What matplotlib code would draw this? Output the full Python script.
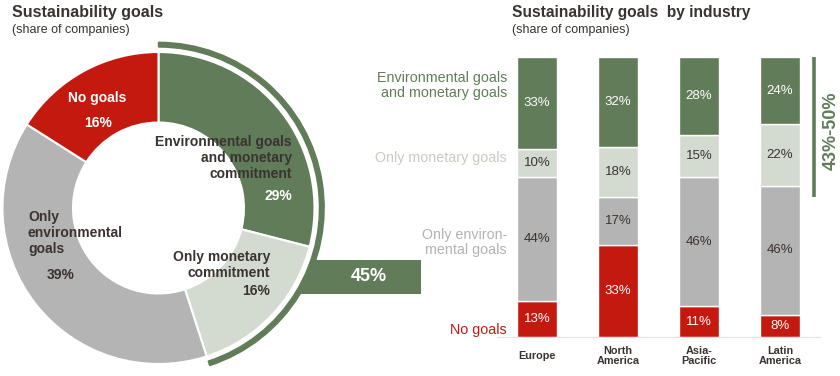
import matplotlib.pyplot as plt
from matplotlib.patches import Wedge, Circle
from matplotlib.transforms import blended_transform_factory

plt.rcParams['font.family'] = ['Liberation Sans', 'DejaVu Sans']

# Overall split (donut)
donut_labels = ['Environmental goals\nand monetary\ncommitment', 'Only monetary\ncommitment',
                'Only\nenvironmental\ngoals', 'No goals']
donut_values = [29, 16, 39, 16]

# Split by region (stacked bars)
regions = ['Europe', 'North\nAmerica', 'Asia-\nPacific', 'Latin\nAmerica']
env_and_monetary = [33, 32, 28, 24]
only_monetary = [10, 18, 15, 22]
only_env = [44, 17, 46, 46]
no_goals = [13, 33, 11, 8]

GREEN = '#617c58'
LIGHT = '#d3dbd1'
GRAY = '#b4b4b4'
RED = '#c4190f'
DARK = '#3a3330'

W, H = 840, 376
fig = plt.figure(figsize=(W / 100, H / 100), dpi=100)


def fx(px):
    return px / W


def fy(py):
    return 1 - py / H


# titles
fig.text(fx(12), fy(13), 'Sustainability goals', fontsize=11.5, fontweight='bold', color=DARK, va='center')
fig.text(fx(12), fy(30), '(share of companies)', fontsize=9, color=DARK, va='center')
fig.text(fx(512), fy(13), 'Sustainability goals  by industry', fontsize=11.2, fontweight='bold',
         color=DARK, va='center')
fig.text(fx(512), fy(30), '(share of companies)', fontsize=9, color=DARK, va='center')

# ---- donut ----
cx, cy, R = 158.5, 208, 156
half = 1.1 * R
ax1 = fig.add_axes([fx(cx - half), (H - cy - half) / H, 2 * half / W, 2 * half / H])
ax1.pie(donut_values, startangle=90, counterclock=False, radius=1,
        colors=[GREEN, LIGHT, GRAY, RED],
        wedgeprops=dict(width=0.452, edgecolor='white', linewidth=1.5, zorder=3))
ax1.set_xlim(-1.1, 1.1)
ax1.set_ylim(-1.1, 1.1)
ax1.set_aspect('equal')
ax1.axis('off')

# combined share of companies with monetary commitment
combined = donut_values[0] + donut_values[1]
ax1.barh(-0.442, 0.933, left=0.75, height=0.218, color=GREEN, zorder=1, clip_on=False)
ax1.add_patch(Circle((0, 0), 1.03, color='white', zorder=2))
ax1.add_patch(Wedge((0, 0), 1.062, 90 - 360 * combined / 100, 90, width=0.03,
                    color=GREEN, zorder=4))
ax1.text(1.35, -0.442, f'{combined}%', color='white', fontsize=13, fontweight='bold',
         ha='center', va='center', clip_on=False, zorder=5)

kw = dict(fontsize=10, fontweight='bold', linespacing=1.15, zorder=5)
ax1.text(0.856, 0.32, donut_labels[0], color=DARK, ha='right', va='center', **kw)
ax1.text(0.856, 0.077, f'{donut_values[0]}%', color='white', ha='right', va='center', **kw)
ax1.text(0.715, -0.365, donut_labels[1], color=DARK, ha='right', va='center', **kw)
ax1.text(0.715, -0.532, f'{donut_values[1]}%', color=DARK, ha='right', va='center', **kw)
ax1.text(-0.837, -0.16, donut_labels[2], color=DARK, ha='left', va='center', **kw)
ax1.text(-0.625, -0.43, f'{donut_values[2]}%', color=DARK, ha='center', va='center', **kw)
ax1.text(-0.394, 0.705, donut_labels[3], color='white', ha='center', va='center', **kw)
ax1.text(-0.388, 0.545, f'{donut_values[3]}%', color='white', ha='center', va='center', **kw)

# ---- stacked bars ----
ax2 = fig.add_axes([fx(497), (H - 337) / H, 323 / W, 280 / H])
x = range(len(regions))
bw = 40 / 81
series = [(no_goals, RED, 'white'), (only_env, GRAY, DARK),
          (only_monetary, LIGHT, DARK), (env_and_monetary, GREEN, 'white')]
bottom = [0] * len(regions)
for vals, col, tcol in series:
    ax2.bar(x, vals, bw, bottom=bottom, color=col, edgecolor='white', linewidth=1)
    for i, v in enumerate(vals):
        ax2.text(i, bottom[i] + v / 2, f'{v}%', color=tcol, fontsize=9.5,
                 ha='center', va='center')
    bottom = [b + v for b, v in zip(bottom, vals)]

ax2.set_xlim(-bw, len(regions) - 1 + bw)
ax2.set_ylim(0, 100)
for s in ['top', 'right', 'left']:
    ax2.spines[s].set_visible(False)
ax2.spines['bottom'].set_color('#e2e2e2')
ax2.set_xticks([])
ax2.set_yticks([])
trans = blended_transform_factory(ax2.transData, ax2.transAxes)
for i, r in enumerate(regions):
    ax2.text(i, -0.068, r, transform=trans, fontsize=7.8, fontweight='bold', color=DARK,
             ha='center', va='center', linespacing=1.1)

# range bracket for green + light green share
shares = [a + b for a, b in zip(env_and_monetary, only_monetary)]
ax2.vlines(3.414, 100 - max(shares), 100, color=GREEN, linewidth=2.6, clip_on=False)
ax2.text(3.63, 73.6, f'{min(shares)}%-{max(shares)}%', rotation=90, color=GREEN,
         fontsize=13, fontweight='bold', ha='center', va='center', clip_on=False)

# legend labels left of the bars
lkw = dict(fontsize=10.3, ha='right', va='center', linespacing=1.15)
fig.text(fx(507), fy(85.5), 'Environmental goals\nand monetary goals', color=GREEN, **lkw)
fig.text(fx(507), fy(158), 'Only monetary goals', color='#c3cec0', **lkw)
fig.text(fx(507), fy(242.5), 'Only environ-\nmental goals', color='#b2b2b2', **lkw)
fig.text(fx(507), fy(330), 'No goals', color=RED, **lkw)

fig.savefig('out.png', dpi=100)
